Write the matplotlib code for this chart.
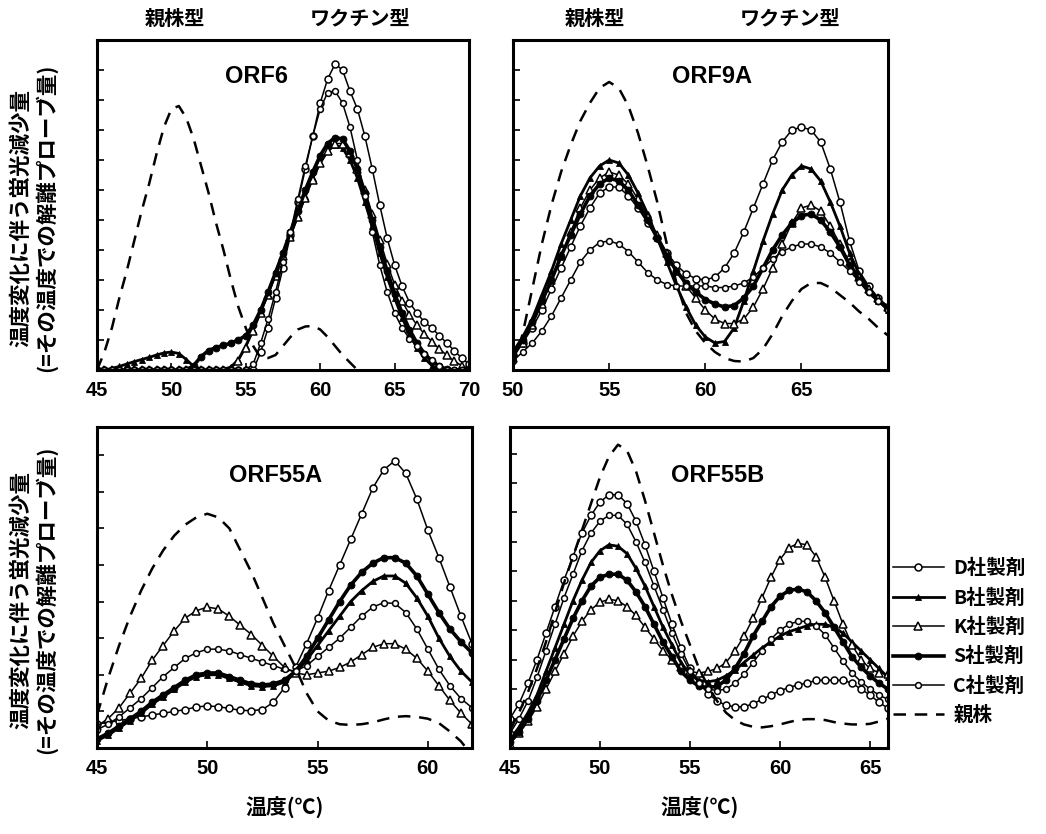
import numpy as np
import matplotlib
matplotlib.use("Agg")
import matplotlib.pyplot as plt

CJK = ["Noto Sans CJK JP", "DejaVu Sans"]
NUM = "Liberation Sans"

nan = np.nan

# ---------------------------------------------------------------------------
# Data (temperature grid, 0.5 degC steps; values in arbitrary tick units)
# ---------------------------------------------------------------------------
t_orf6 = np.arange(45, 70.01, 0.5)
orf6_parent = [0, 0.6, 1.4, 2.4, 3.3, 4.3, 5.3, 6.2, 7.2, 8.1,
               8.7, 8.8, 8.4, 7.7, 6.8, 5.9, 4.9, 4.0, 3.0, 2.1,
               1.4, 0.8, 0.4, 0.4, 0.5, 0.8, 1.1, 1.35, 1.45, 1.47,
               1.35, 1.1, 0.8, 0.5, 0.25, 0.0] + [nan] * 15
orf6_D = [0.0] * 22 + [0.6, 1.4, 2.4, 3.4, 4.5, 5.6, 6.7, 7.8, 8.9, 9.7,
                       10.2, 10.0, 9.3, 8.7, 7.8, 6.7, 5.5, 4.4, 3.5, 2.8,
                       2.25, 1.9, 1.6, 1.4, 1.15, 0.9, 0.65, 0.4, 0.2]
orf6_B = [0, 0, 0.05, 0.12, 0.2, 0.28, 0.35, 0.42, 0.5, 0.57,
          0.6, 0.55, 0.35, 0.12, 0.03, 0, 0, 0.02, 0.1, 0.35,
          0.8, 1.35, 1.95, 2.55, 3.2, 3.85, 4.5, 5.15, 5.8, 6.4,
          6.9, 7.3, 7.5, 7.4, 7.0, 6.4, 5.6, 4.8, 3.9, 3.1,
          2.4, 1.75, 1.2, 0.75, 0.4, 0.15, 0.02, 0, 0, 0, 0]
orf6_K = [0.0] * 18 + [0.05, 0.3,
                       0.75, 1.3, 1.9, 2.5, 3.15, 3.8, 4.45, 5.1, 5.75, 6.35,
                       6.9, 7.3, 7.55, 7.55, 7.25, 6.7, 6.0, 5.2, 4.35, 3.55,
                       2.85, 2.3, 1.85, 1.5, 1.2, 0.95, 0.7, 0.5, 0.3, 0.15,
                       0.05]
orf6_S = [0.0] * 13 + [0.15, 0.45, 0.65, 0.75, 0.82, 0.9, 1.0,
                       1.15, 1.5, 2.0, 2.6, 3.25, 3.9, 4.6, 5.3, 6.0, 6.6,
                       7.15, 7.55, 7.75, 7.7, 7.3, 6.7, 5.9, 5.0, 4.1, 3.3,
                       2.55, 1.9, 1.35, 0.9, 0.55, 0.3, 0.12, 0.03, 0, 0,
                       0]
orf6_C = [0.0] * 21 + [0.2, 0.9, 1.7, 2.6, 3.6, 4.6, 5.7, 6.8, 7.8, 8.7,
                       9.25, 9.3, 8.9, 8.1, 7.0, 5.8, 4.6, 3.5, 2.6, 1.9,
                       1.4, 1.05, 0.8, 0.55, 0.35, 0.15, 0, 0, 0, 0]

t_orf9a = np.arange(50, 69.51, 0.5)
orf9a_parent = [0.1, 1.2, 2.7, 4.2, 5.5, 6.6, 7.5, 8.3, 8.9, 9.4,
                9.6, 9.4, 8.8, 7.9, 6.8, 5.6, 4.2, 2.9, 1.9, 1.3,
                0.9, 0.6, 0.4, 0.3, 0.28, 0.4, 0.7, 1.2, 1.8, 2.3,
                2.7, 2.9, 2.9, 2.75, 2.5, 2.25, 1.95, 1.7, 1.4, 1.15]
orf9a_D = [0.5, 0.9, 1.4, 2.0, 2.7, 3.4, 4.1, 4.8, 5.4, 5.9,
           6.1, 6.1, 5.8, 5.4, 4.9, 4.4, 3.9, 3.5, 3.2, 3.05,
           3.0, 3.1, 3.4, 3.9, 4.6, 5.4, 6.2, 7.0, 7.6, 8.0,
           8.1, 8.0, 7.6, 6.7, 5.6, 4.3, 3.3, 2.8, 2.4, 2.1]
orf9a_B = [0.6, 1.1, 1.7, 2.5, 3.3, 4.2, 5.0, 5.8, 6.4, 6.8,
           7.0, 6.9, 6.5, 5.9, 5.2, 4.4, 3.6, 2.8, 2.1, 1.5,
           1.1, 0.9, 0.95, 1.4, 2.3, 3.3, 4.3, 5.2, 6.0, 6.5,
           6.8, 6.7, 6.3, 5.6, 4.8, 3.9, 3.2, 2.7, 2.3, 2.0]
orf9a_K = [0.4, 0.9, 1.5, 2.2, 3.0, 3.8, 4.6, 5.4, 6.0, 6.4,
           6.6, 6.5, 6.2, 5.7, 5.1, 4.5, 3.9, 3.3, 2.8, 2.4,
           2.0, 1.7, 1.55, 1.55, 1.7, 2.1, 2.7, 3.4, 4.2, 4.9,
           5.4, 5.5, 5.3, 4.8, 4.2, 3.6, 3.1, 2.7, 2.4, 2.1]
orf9a_S = [0.5, 1.0, 1.6, 2.3, 3.0, 3.8, 4.5, 5.2, 5.8, 6.2,
           6.4, 6.3, 6.0, 5.5, 5.0, 4.4, 3.8, 3.3, 2.9, 2.6,
           2.35, 2.2, 2.1, 2.15, 2.4, 2.8, 3.4, 4.0, 4.5, 4.9,
           5.15, 5.2, 5.0, 4.6, 4.1, 3.5, 3.0, 2.6, 2.3, 2.1]
orf9a_C = [0.3, 0.6, 0.9, 1.3, 1.8, 2.4, 3.0, 3.6, 4.0, 4.25,
           4.3, 4.2, 3.95, 3.6, 3.25, 3.0, 2.85, 2.8, 2.8, 2.8,
           2.8, 2.75, 2.75, 2.8, 2.9, 3.1, 3.4, 3.7, 3.95, 4.1,
           4.2, 4.2, 4.1, 3.9, 3.6, 3.3, 2.95, 2.6, 2.3, 2.0]

t_orf55a = np.arange(45, 62.01, 0.5)
orf55a_parent = [0.9, 1.9, 2.8, 3.6, 4.3, 4.9, 5.4, 5.8, 6.1, 6.3,
                 6.4, 6.3, 6.0, 5.4, 4.8, 4.1, 3.4, 2.8, 2.2, 1.5,
                 1.0, 0.75, 0.65, 0.63, 0.65, 0.7, 0.78, 0.85, 0.87, 0.85,
                 0.8, 0.68, 0.45, 0.18, -0.2]
orf55a_D = [0.65, 0.7, 0.75, 0.8, 0.85, 0.9, 0.95, 1.0, 1.05, 1.12,
            1.15, 1.13, 1.08, 1.03, 1.02, 1.05, 1.25, 1.65, 2.2, 2.85,
            3.55, 4.3, 5.0, 5.7, 6.4, 7.1, 7.6, 7.85, 7.5, 6.8,
            5.95, 5.2, 4.4, 3.6, 2.85]
orf55a_B = [0.2, 0.35, 0.55, 0.75, 0.95, 1.2, 1.4, 1.6, 1.8, 1.95,
            2.0, 2.0, 1.9, 1.8, 1.7, 1.68, 1.7, 1.8, 2.05, 2.4,
            2.8, 3.2, 3.6, 4.0, 4.3, 4.55, 4.7, 4.7, 4.5, 4.1,
            3.6, 3.0, 2.5, 2.1, 1.8]
orf55a_K = [0.6, 0.8, 1.1, 1.5, 1.9, 2.4, 2.8, 3.2, 3.55, 3.75,
            3.85, 3.8, 3.6, 3.35, 3.1, 2.8, 2.5, 2.2, 2.05, 2.0,
            2.05, 2.1, 2.2, 2.35, 2.55, 2.75, 2.85, 2.85, 2.7, 2.45,
            2.1, 1.7, 1.3, 0.95, 0.65]
orf55a_S = [0.25, 0.4, 0.6, 0.8, 1.0, 1.25, 1.45, 1.65, 1.85, 2.0,
            2.05, 2.05, 1.95, 1.85, 1.75, 1.72, 1.75, 1.85, 2.1, 2.5,
            3.0, 3.5, 4.0, 4.45, 4.8, 5.05, 5.2, 5.2, 5.05, 4.7,
            4.2, 3.7, 3.25, 2.9, 2.6]
orf55a_C = [0.5, 0.65, 0.85, 1.1, 1.35, 1.65, 1.95, 2.2, 2.45, 2.6,
            2.7, 2.7, 2.65, 2.55, 2.45, 2.35, 2.25, 2.15, 2.1, 2.25,
            2.5, 2.75, 3.0, 3.3, 3.6, 3.85, 3.97, 3.95, 3.7, 3.25,
            2.7, 2.15, 1.7, 1.35, 1.1]

t_orf55b = np.arange(45, 66.01, 0.5)
orf55b_parent = [0.6, 1.2, 1.9, 2.7, 3.6, 4.6, 5.6, 6.5, 7.4, 8.3,
                 9.2, 9.9, 10.3, 10.1, 9.4, 8.4, 7.3, 6.2, 5.2, 4.3,
                 3.5, 2.7, 2.1, 1.6, 1.2, 0.95, 0.8, 0.72, 0.7, 0.74,
                 0.8, 0.88, 0.95, 0.98, 0.98, 0.95, 0.88, 0.83, 0.8, 0.8,
                 0.82, 0.9, 1.0]
orf55b_D = [1.0, 1.5, 2.2, 3.0, 3.9, 4.8, 5.7, 6.5, 7.3, 7.9,
            8.35, 8.6, 8.6, 8.3, 7.7, 6.9, 6.0, 5.1, 4.2, 3.4,
            2.7, 2.2, 1.85, 1.6, 1.45, 1.4, 1.4, 1.5, 1.65, 1.8,
            1.95, 2.05, 2.15, 2.2, 2.3, 2.3, 2.3, 2.3, 2.2, 2.0,
            1.8, 1.55, 1.35]
orf55b_B = [0.3, 0.7, 1.2, 1.8, 2.6, 3.4, 4.2, 5.0, 5.7, 6.3,
            6.7, 6.9, 6.85, 6.6, 6.1, 5.5, 4.8, 4.1, 3.5, 2.9,
            2.5, 2.3, 2.25, 2.3, 2.45, 2.65, 2.9, 3.15, 3.4, 3.6,
            3.8, 3.95, 4.05, 4.15, 4.2, 4.2, 4.1, 3.9, 3.6, 3.3,
            3.0, 2.7, 2.4]
orf55b_K = [0.15, 0.5, 0.9, 1.4, 2.0, 2.6, 3.2, 3.8, 4.3, 4.7,
            4.95, 5.05, 5.0, 4.8, 4.5, 4.1, 3.7, 3.3, 3.0, 2.75,
            2.6, 2.55, 2.6, 2.7, 2.9, 3.3, 3.8, 4.4, 5.1, 5.8,
            6.4, 6.8, 6.95, 6.9, 6.5, 5.8, 5.0, 4.2, 3.5, 3.0,
            2.7, 2.55, 2.5]
orf55b_S = [0.2, 0.55, 1.0, 1.6, 2.3, 3.0, 3.7, 4.4, 5.0, 5.5,
            5.8, 5.9, 5.9, 5.7, 5.3, 4.8, 4.2, 3.6, 3.1, 2.6,
            2.3, 2.1, 2.05, 2.1, 2.3, 2.7, 3.2, 3.8, 4.3, 4.8,
            5.15, 5.35, 5.4, 5.3, 5.0, 4.6, 4.1, 3.6, 3.1, 2.75,
            2.45, 2.2, 2.0]
orf55b_C = [0.5, 1.0, 1.6, 2.4, 3.3, 4.2, 5.1, 5.9, 6.7, 7.3,
            7.7, 7.9, 7.9, 7.6, 7.0, 6.3, 5.5, 4.7, 3.9, 3.2,
            2.6, 2.2, 2.0, 1.95, 2.0, 2.2, 2.5, 2.9, 3.3, 3.7,
            4.0, 4.2, 4.3, 4.3, 4.15, 3.85, 3.4, 2.95, 2.55, 2.25,
            2.0, 1.8, 1.65]

series_labels = ["D社製剤", "B社製剤", "K社製剤", "S社製剤", "C社製剤", "親株"]

panels = [
    # title, temps, [D, B, K, S, C, parent], xlim, xticks, ytop, title pos, ax rect
    ("ORF6", t_orf6, [orf6_D, orf6_B, orf6_K, orf6_S, orf6_C, orf6_parent],
     (45, 70), [45, 50, 55, 60, 65, 70], 11.0, (0.43, 0.89),
     [97 / 1046, 1 - 370 / 834, 372 / 1046, 330 / 834]),
    ("ORF9A", t_orf9a, [orf9a_D, orf9a_B, orf9a_K, orf9a_S, orf9a_C, orf9a_parent],
     (50, 69.5), [50, 55, 60, 65], 11.0, (0.53, 0.89),
     [513 / 1046, 1 - 370 / 834, 375 / 1046, 330 / 834]),
    ("ORF55A", t_orf55a, [orf55a_D, orf55a_B, orf55a_K, orf55a_S, orf55a_C, orf55a_parent],
     (45, 62), [45, 50, 55, 60], 8.77, (0.475, 0.85),
     [97 / 1046, 1 - 748 / 834, 375 / 1046, 321 / 834]),
    ("ORF55B", t_orf55b, [orf55b_D, orf55b_B, orf55b_K, orf55b_S, orf55b_C, orf55b_parent],
     (45, 66), [45, 50, 55, 60, 65], 10.9, (0.548, 0.85),
     [510 / 1046, 1 - 748 / 834, 378 / 1046, 321 / 834]),
]

styles = [
    dict(marker="o", ms=5.0, mfc="white", mec="black", mew=1.1, lw=1.1),
    dict(marker="^", ms=4.2, mfc="black", mec="black", mew=0.6, lw=2.0),
    dict(marker="^", ms=5.4, mfc="white", mec="black", mew=1.1, lw=1.1),
    dict(marker="o", ms=5.0, mfc="black", mec="black", mew=0.6, lw=2.6),
    dict(marker="o", ms=4.2, mfc="white", mec="black", mew=1.1, lw=1.1),
    dict(marker=None, lw=1.8, ls=(0, (5, 3.5))),
]

fig = plt.figure(figsize=(10.46, 8.34), dpi=100)

handles = []
for title, temps, ys, xlim, xticks, ytop, tpos, rect in panels:
    ax = fig.add_axes(rect)
    lines = []
    for y, st, lab in zip(ys, styles, series_labels):
        (ln,) = ax.plot(temps, y, color="black", label=lab, **st)
        lines.append(ln)
    handles = lines
    ax.set_xlim(*xlim)
    ax.set_ylim(0, ytop)
    ax.set_xticks(xticks)
    ax.set_yticks(np.arange(1, int(ytop) + 1))
    ax.set_yticklabels([])
    ax.tick_params(direction="in", length=5, width=1.2, pad=8)
    for lbl in ax.get_xticklabels():
        lbl.set_fontfamily(NUM)
        lbl.set_fontweight("bold")
        lbl.set_fontsize(14.5)
    for sp in ax.spines.values():
        sp.set_linewidth(2.2)
    ax.text(tpos[0], tpos[1], title, transform=ax.transAxes, ha="center",
            va="center", fontsize=17, fontweight="bold", family=NUM)

# header labels above top panels
for x, s in [(175, "親株型"), (360, "ワクチン型"), (595, "親株型"), (790, "ワクチン型")]:
    fig.text(x / 1046, 1 - 18 / 834, s, ha="center", va="center",
             fontsize=14.5, fontweight="bold", family=CJK)

# y labels
ylab = "温度変化に伴う蛍光減少量\n(=その温度での解離プローブ量)"
for yc in (218, 600):
    fig.text(34 / 1046, 1 - yc / 834, ylab, rotation=90, ha="center",
             va="center", multialignment="center", fontsize=15.5,
             fontweight="bold", linespacing=1.2, family=CJK)

# x labels
for xc in (285, 700):
    fig.text(xc / 1046, 1 - 808 / 834, "温度(℃)", ha="center", va="center",
             fontsize=15, fontweight="bold", family=CJK)

fig.legend(handles, series_labels, loc="upper left",
           bbox_to_anchor=(893 / 1046, 1 - 559 / 834), frameon=False,
           handlelength=2.6, handletextpad=0.5, labelspacing=0.52,
           borderpad=0, borderaxespad=0, numpoints=1,
           prop=dict(family=CJK, size=14, weight="bold"))

fig.savefig("out.png", dpi=100)
plt.close(fig)
